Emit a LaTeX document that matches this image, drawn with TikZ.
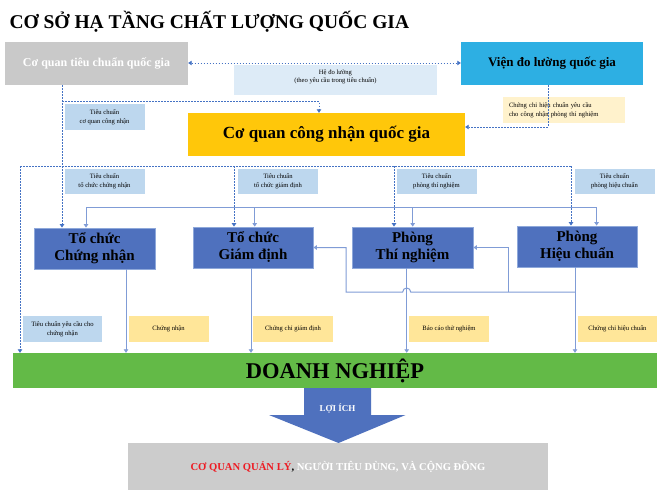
\documentclass[tikz,border=0pt]{standalone}
\usepackage{fontspec}
\setmainfont{Liberation Serif}
\usetikzlibrary{arrows.meta}
\definecolor{qgray}{RGB}{201,201,201}
\definecolor{qcyan}{RGB}{45,175,227}
\definecolor{qgold}{RGB}{255,199,10}
\definecolor{qnavy}{RGB}{79,113,190}
\definecolor{qedge}{RGB}{142,168,218}
\definecolor{qpale}{RGB}{221,235,247}
\definecolor{qsky}{RGB}{189,215,238}
\definecolor{qcream}{RGB}{255,242,204}
\definecolor{qsand}{RGB}{255,230,153}
\definecolor{qgreen}{RGB}{99,186,71}
\definecolor{qline}{RGB}{68,114,196}
\definecolor{qsoft}{RGB}{128,156,214}
\definecolor{qred}{RGB}{237,28,36}

\begin{document}
\begin{tikzpicture}[x=1pt, y=-1pt, >={Triangle[width=4.5pt,length=3.5pt]},
    dline/.style={qline, dash pattern=on 1.6pt off 1.4pt, line width=.8pt},
    sline/.style={qsoft, line width=1pt},
    unit/.style={fill=qnavy, draw=qedge, line width=.8pt, minimum width=121pt, minimum height=41pt,
      align=center, font=\fontsize{15}{17}\selectfont\bfseries},
    note/.style={fill=#1, minimum width=80pt, minimum height=25pt, inner sep=0pt, align=center,
      font=\fontsize{6.6}{8.7}\selectfont}]
    \useasboundingbox[fill=white] (0,0) rectangle (657,490);
    \node[anchor=west, font=\fontsize{19.5}{21}\selectfont\bfseries] (title) at (6,22) {CƠ SỞ HẠ TẦNG CHẤT LƯỢNG QUỐC GIA};
    \node[fill=qgray, minimum width=183pt, minimum height=43pt, text=white,
      font=\fontsize{12}{14}\selectfont\bfseries] (tcqg) at (96.5,63.5) {Cơ quan tiêu chuẩn quốc gia};
    \node[fill=qcyan, minimum width=182pt, minimum height=43pt,
      font=\fontsize{13}{15}\selectfont\bfseries] (vdl) at (552,63.5) {Viện đo lường quốc gia};
    \node[fill=qpale, minimum width=203pt, minimum height=30pt] (hdl) at (335.5,80) {};
    \node[note=none, fill opacity=0, text opacity=1] (hdltxt) at (335.5,77) {Hệ đo lường\\(theo yêu cầu trong tiêu chuẩn)};
    \node[fill=qgold, minimum width=277pt, minimum height=43pt,
      font=\fontsize{17}{19}\selectfont\bfseries] (cnqg) at (326.5,134.5) {Cơ quan công nhận quốc gia};
    \node[note=qsky, minimum height=26pt] (ltc) at (104.5,117) {Tiêu chuẩn\\cơ quan công nhận};
    \node[note=qcream, minimum width=122pt, minimum height=26pt, text width=110pt, inner xsep=6pt,
      align=left] (lcc) at (564,110) {Chứng chỉ hiệu chuẩn yêu cầu\\cho công nhận phòng thí nghiệm};

    \foreach\n/\x/\t in {l1/104.5/tổ chức chứng nhận, l2/278/tổ chức giám định,
      l3/436.5/phòng thí nghiệm, l4/614.5/phòng hiệu chuẩn}{
      \node[note=qsky] (\n) at (\x,181) {Tiêu chuẩn\\\t};
    }
    \node[unit] (b1) at (94.5,248.5) {Tổ chức\\Chứng nhận};
    \node[unit, minimum width=120pt] (b2) at (253,247.5) {Tổ chức\\Giám định};
    \node[unit] (b3) at (412.5,247.5) {Phòng\\Thí nghiệm};
    \node[unit, minimum width=120pt] (b4) at (577,246.5) {Phòng\\Hiệu chuẩn};

    \node[note=qsky, minimum width=79pt, minimum height=26pt] (r1) at (62.5,329) {Tiêu chuẩn yêu cầu cho\\chứng nhận};
    \foreach\n/\x/\t in {r2/168.5/Chứng nhận, r3/293/Chứng chỉ giám định,
      r4/449/Báo cáo thử nghiệm, r5/617.5/Chứng chỉ hiệu chuẩn}{
      \node[note=qsand, minimum height=26pt] (\n) at (\x,329) {\t};
    }
    \node[fill=qgreen, minimum width=644pt, minimum height=35pt,
      font=\fontsize{22.5}{24}\selectfont\bfseries] (dn) at (335,370.5) {DOANH NGHIỆP};
    \fill[qnavy] (dn.south -| 304,0) -- (304,415) -- (269,415) -- (338.5,443) -- (405.5,415)
      -- (371,415) -- (dn.south -| 371,0) -- cycle;
    \node[text=white, font=\fontsize{9}{11}\selectfont\bfseries] (loi) at (337.5,409) {LỢI ÍCH};
    \node[fill=qgray!95, minimum width=420pt, minimum height=47pt,
      font=\fontsize{10.6}{12}\selectfont\bfseries] (ben) at (338,466.5)
      {\raisebox{-3pt}{\textcolor{qred}{CƠ QUAN QUẢN LÝ}, \textcolor{white}{NGƯỜI TIÊU DÙNG, VÀ CỘNG ĐỒNG}}};

    \draw[dline, <->] (tcqg.east |- 0,63) -- (vdl.west |- 0,63);
    \draw[dline, ->] (tcqg.south -| 62,0) -- (b1.north -| 62,0);
    \draw[dline, ->] (62,101.7) -- (319,101.7) -- (cnqg.north -| 319,0);
    \draw[dline, ->] (vdl.south -| 548,0) -- (548,127) -- (cnqg.east |- 0,127);
    \draw[dline] (20,166) -- (571,166);
    \draw[dline, ->] (20,166) -- (dn.north -| 20,0);
    \foreach\n/\x in {b2/234, b3/394, b4/571}{
      \draw[dline, ->] (\x,166) -- (\n.north -| \x,0);
    }
    \draw[sline] (86,207.7) -- (596.6,207.7);
    \foreach\n/\x in {b1/86, b2/254.7, b3/412.7, b4/596.6}{
      \draw[sline, ->] (\x,207.7) -- (\n.north -| \x,0);
    }
    \foreach\n/\x in {b1/126, b2/251, b3/406.7, b4/575}{
      \draw[sline, ->] (\n.south -| \x,0) -- (dn.north -| \x,0);
    }
    \draw[sline, ->] (575,292) -- (410.7,292) arc[start angle=0, end angle=-180, radius=4]
      -- (346,292) -- (b2.east -| 346,0) -- (b2.east);
    \draw[sline, ->] (508,292) -- (b3.east -| 508,0) -- (b3.east);
  \end{tikzpicture}
\end{document}
